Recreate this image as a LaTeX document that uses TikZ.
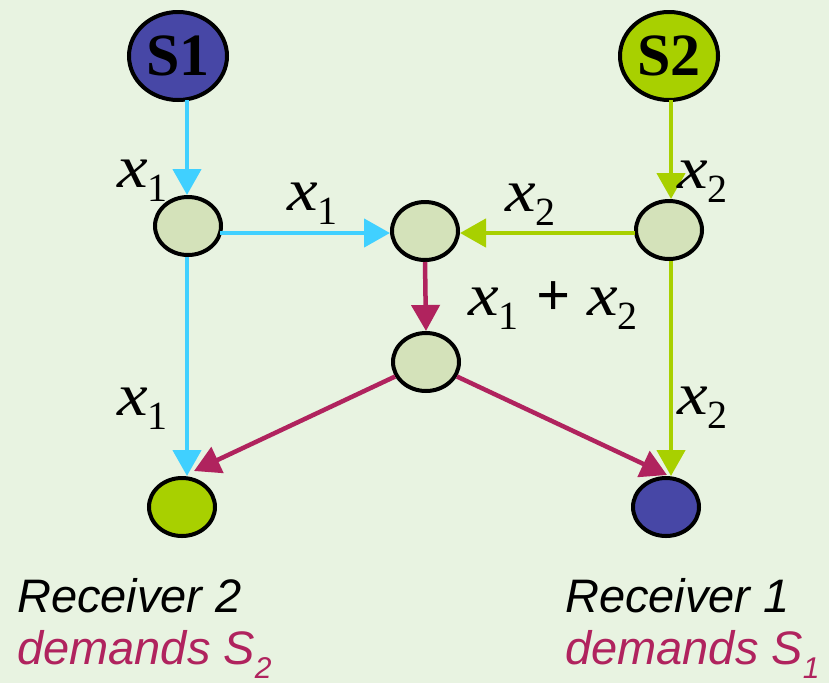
\documentclass[tikz,border=0pt]{standalone}
\usepackage{fontspec}
\setmainfont{Liberation Serif}
\newfontfamily\arialf{Liberation Sans}
\usetikzlibrary{arrows.meta,shapes.geometric}
\definecolor{bg}{HTML}{E8F3E1}
\definecolor{nodefill}{HTML}{D4E2BA}
\definecolor{sblue}{HTML}{4747A6}
\definecolor{sgreen}{HTML}{A8D000}
\definecolor{cyanA}{HTML}{40D0FF}
\definecolor{magA}{HTML}{B0235E}
\newcommand{\xsub}[1]{\scalebox{1.15}[1]{\textit{x}}\raisebox{-14pt}{\fontsize{40}{40}\selectfont #1}}
\tikzset{
  netnode/.style={ellipse, draw=black, line width=4pt, fill=nodefill, minimum width=66pt, minimum height=58pt, inner sep=0pt},
  srcnode/.style={ellipse, draw=black, line width=4pt, minimum width=98pt, minimum height=88pt, inner sep=0pt, font=\fontsize{60}{60}\selectfont\bfseries},
  conn/.style={line width=4.5pt, -{Triangle[width=28pt,length=26pt]}},
  lab/.style={anchor=base west, inner sep=0pt, font=\fontsize{60}{60}\selectfont},
  rtext/.style={anchor=base west, inner sep=0pt, font=\arialf\itshape\fontsize{47}{47}\selectfont}
}
\begin{document}
\begin{tikzpicture}[x=1pt,y=-1pt]
\fill[bg] (0,0) rectangle (829,683);
\useasboundingbox (0,0) rectangle (829,683);
% nodes
\node[srcnode, fill=sblue] (s1) at (178,56) {S1};
\node[srcnode, fill=sgreen] (s2) at (669,56) {S2};
\node[netnode] (a) at (188,226) {};
\node[netnode] (b) at (425,231) {};
\node[netnode] (c) at (669,230) {};
\node[netnode] (d) at (426,362) {};
\node[netnode, fill=sgreen] (r2) at (182,507) {};
\node[netnode, fill=sblue] (r1) at (666,507) {};
% coordinates
\coordinate (s1b) at (187,100);
\coordinate (s2b) at (671,100);
\coordinate (aR) at (220,233);
\coordinate (cL) at (635,233);
\coordinate (r2t) at (194,471);
\coordinate (r1t) at (667,475);
% connectors
\draw[conn, cyanA] (s1b) -- (a.north -| s1b);
\draw[conn, cyanA] (aR) -- (b.west |- aR);
\draw[conn, cyanA] (a.south -| s1b) -- (r2.north -| s1b);
\draw[conn, sgreen] (s2b) -- (c.north -| s2b);
\draw[conn, sgreen] (cL) -- (b.east |- cL);
\draw[conn, sgreen] (c.south -| s2b) -- (r1.north -| s2b);
\draw[conn, magA] (b.south) -- (d.north);
\draw[conn, magA] (d) -- (r2t);
\draw[conn, magA] (d) -- (r1t);
% labels
\node[lab] (l1) at (117,187) {\xsub{1}};
\node[lab] (l2) at (287,210) {\xsub{1}};
\node[lab] (l3) at (505,211) {\xsub{2}};
\node[lab] (l4) at (677,188) {\xsub{2}};
\node[lab] (l5) at (468,315) {\xsub{1}\hspace{18pt}\textbf{+}\hspace{16pt}\xsub{2}};
\node[lab] (l6) at (117,415) {\xsub{1}};
\node[lab] (l7) at (677,414) {\xsub{2}};
% receiver texts
\node[rtext] (t1) at (17,612) {Receiver 2};
\node[rtext, text=magA] (t2) at (17,664) {demands S\raisebox{-14pt}{\fontsize{30}{30}\selectfont 2}};
\node[rtext] (t3) at (565,612) {Receiver 1};
\node[rtext, text=magA] (t4) at (565,664) {demands S\raisebox{-14pt}{\fontsize{30}{30}\selectfont 1}};
\end{tikzpicture}
\end{document}
